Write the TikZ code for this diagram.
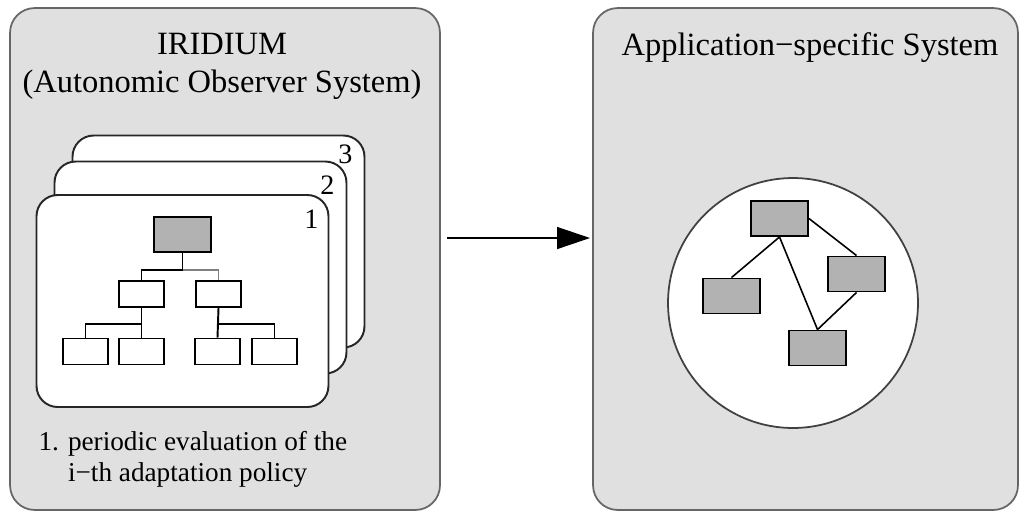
\documentclass[tikz,border=0pt]{standalone}
\usepackage{fontspec}
\setmainfont{Liberation Serif}
\usepackage{tikz}
\usetikzlibrary{arrows.meta}
\usetikzlibrary{calc}
\usetikzlibrary{positioning}

\begin{document}
\begin{tikzpicture}[x=0.02cm,y=-0.02cm,-,semithick]
	\tikzstyle{panel}=[draw=black!60, fill=black!12, rounded corners=14pt, line width=1pt, inner sep=0pt]
	\tikzstyle{card}=[draw=black!85, fill=white, rounded corners=12pt, line width=1.1pt, minimum width=5.84cm, minimum height=4.24cm, inner sep=0pt]
	\tikzstyle{blk}=[draw, line width=1.1pt, fill=white, minimum width=0.9cm, minimum height=0.52cm, inner sep=0pt]
	\tikzstyle{gblk}=[blk, fill=black!30, minimum width=1.14cm, minimum height=0.7cm]
	\tikzstyle{lbl}=[inner sep=0pt, font=\fontsize{18.5}{21.5}\selectfont]
	\useasboundingbox (0,0) rectangle (1020,515);

	% the two systems
	\node[panel, minimum width=8.6cm, minimum height=10.04cm] (iridium) at (225,259) {};
	\node[panel, minimum width=8.5cm, minimum height=10.04cm] (appsys) at (805.5,259) {};
	\node[lbl, align=center] (ttl1) at (222,66) {IRIDIUM\\(Autonomic Observer System)};
	\node[lbl] (ttl2) at (810,48) {Application−specific System};

	% stack of policies
	\foreach \i/\x/\y/\dx/\dy in {3/218.5/241.5/-20/20, 2/200.5/267.5/-20/25, 1/182.5/301/-18/25}{
		\node[card] (card\i) at (\x,\y) {};
		\node[inner sep=0pt, font=\fontsize{16}{18}\selectfont] (num\i) at ($(card\i.north east)+(\dx,\dy)$) {\i};
	}

	\node[gblk] (root) at (182.5,234.5) {};
	\node[blk]  (ml) at (141.5,294) {};
	\node[blk]  (mr) at (218.5,294) {};
	\foreach \j/\x in {1/85.5, 2/141.5, 3/217.5, 4/274.5}{
		\node[blk] (leaf\j) at (\x,351.5) {};
	}
	\draw[line width=1.1pt] (root.south) -- ++(0,17) -| (ml.north);
	\draw[line width=1pt, black!50] (root.south) ++(0,17) -| (mr.north);
	\draw[line width=1.1pt] (ml.south) -- ++(0,16) -| (leaf1.north);
	\draw[line width=1.1pt] (ml.south) -- (leaf2.north);
	\draw[line width=1.1pt] (mr.south) -- ++(0,16) -| (leaf4.north);
	\draw[line width=1.1pt] (mr.south) -- (leaf3.north);

	\node[inner sep=0pt, align=left, anchor=west, font=\fontsize{15.5}{17.5}\selectfont] (note) at (38,459)
		{1. periodic evaluation of the\\\phantom{1. }i−th adaptation policy};

	% observed system
	\node[draw=black!75, fill=white, circle, line width=1pt, minimum size=5cm, inner sep=0pt] (world) at (793,303) {};
	\node[gblk] (a) at (779.5,218.5) {};
	\node[gblk] (b) at (731.5,296) {};
	\node[gblk] (c) at (856.5,274) {};
	\node[gblk] (d) at (817.5,348) {};
	\draw[line width=0.9pt] (a.south) -- (b.north);
	\draw[line width=0.9pt] (a.south) -- (d.north);
	\draw[line width=0.9pt] (a.east) -- (c.north);
	\draw[line width=0.9pt] (c.south) -- (d.north);

	\coordinate (src) at (447,238);
	\coordinate (dst) at (590,238);
	\draw[line width=0.8pt, -{Triangle[length=0.66cm,width=0.44cm]}] (src) -- (dst);
\end{tikzpicture}
\end{document}
